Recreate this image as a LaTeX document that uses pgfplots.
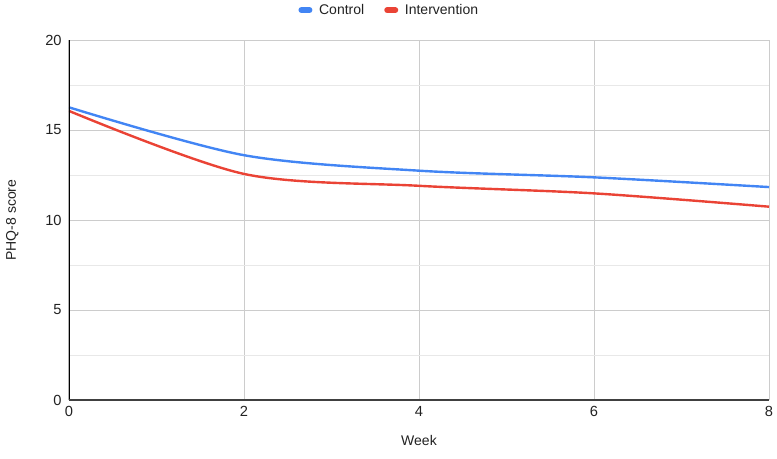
\documentclass[border=0pt]{standalone}
\usepackage{pgfplots}
\pgfplotsset{compat=1.18}
\usepackage{fontspec}
\setmainfont{Liberation Sans}
\definecolor{ctrl}{HTML}{4285F4}
\definecolor{intv}{HTML}{EA4335}
\definecolor{gridmaj}{HTML}{CCCCCC}
\definecolor{gridmin}{HTML}{E8E8E8}
\definecolor{txt}{HTML}{222222}
\begin{document}
\begin{tikzpicture}
\useasboundingbox (-51.75pt,-43.5pt) rectangle (531pt,300pt);
\begin{axis}[
  scale only axis,
  width=525pt, height=270pt,
  xmin=0, xmax=8, ymin=0, ymax=20,
  xtick={0,2,4,6,8},
  ytick={0,5,10,15,20},
  minor ytick={2.5,7.5,12.5,17.5},
  grid=both,
  major grid style={gridmaj, line width=0.75pt},
  minor grid style={gridmin, line width=0.75pt},
  axis line style={draw=none},
  major tick length=0pt, minor tick length=0pt,
  tick label style={font=\fontsize{11}{13}\selectfont, text=txt},
  /pgf/number format/assume math mode=true,
  yticklabel style={xshift=-2pt},
  xticklabel style={yshift=-1pt},
  xlabel={Week},
  label style={font=\fontsize{10.5}{12}\selectfont, text=txt},
  xlabel style={at={(axis description cs:0.5,0)}, anchor=center, yshift=-30pt},
  legend style={at={(rel axis cs:0.458,1.083)}, anchor=center, draw=none,
    font=\fontsize{10.5}{12}\selectfont, text=txt,
    legend columns=2,
    /tikz/every odd column/.append style={column sep=3pt},
    /tikz/every even column/.append style={column sep=13pt}},
  legend image code/.code={\draw[line width=4.5pt, line cap=round] (0pt,0pt) -- (6pt,0pt);},
]
\addplot[ctrl, line width=1.8pt, smooth, tension=0.5] coordinates {
  (0,16.26) (2,13.6) (4,12.74) (6,12.37) (8,11.83)
};
\addlegendentry{Control}
\addplot[intv, line width=1.8pt, smooth, tension=0.5] coordinates {
  (0,16.06) (2,12.56) (4,11.9) (6,11.48) (8,10.74)
};
\addlegendentry{Intervention}
\draw[black, line width=0.9pt] (rel axis cs:0,0) -- (rel axis cs:0,1);
\draw[black!75, line width=0.9pt] (rel axis cs:0,0) -- (rel axis cs:1,0);
\end{axis}
\node[rotate=90, font=\fontsize{10.5}{12}\selectfont, text=txt] at (-42.5pt,135pt) {PHQ-8 score};
\end{tikzpicture}
\end{document}
